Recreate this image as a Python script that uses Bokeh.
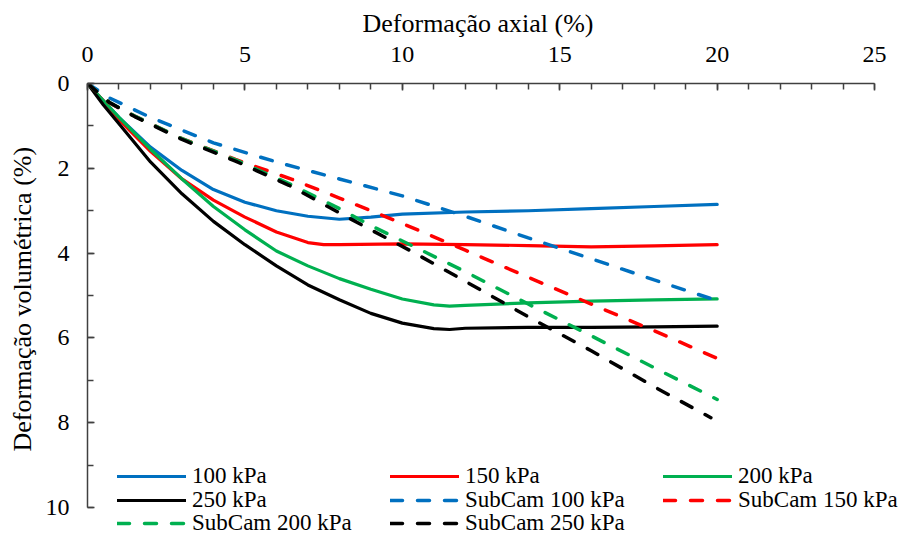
from bokeh.plotting import figure
from bokeh.models import Range1d, SingleIntervalTicker, Legend, LegendItem, Title
from bokeh.embed import file_html
from bokeh.resources import INLINE

# ---- data ----
x_100 = [0, 0.5, 1, 2, 3, 4, 5, 6, 7, 8, 9, 10, 12, 14, 16, 18, 20]
y_100 = [0, 0.4, 0.8, 1.5, 2.05, 2.5, 2.8, 3.0, 3.13, 3.2, 3.15, 3.08, 3.03, 3.0, 2.95, 2.9, 2.85]

x_150 = [0, 0.5, 1, 2, 3, 4, 5, 6, 7, 7.5, 8, 10, 12, 14, 16, 18, 20]
y_150 = [0, 0.4, 0.85, 1.6, 2.25, 2.75, 3.15, 3.5, 3.75, 3.8, 3.8, 3.78, 3.8, 3.82, 3.85, 3.83, 3.8]

x_200 = [0, 0.5, 1, 2, 3, 4, 5, 6, 7, 8, 9, 10, 11, 11.5, 12, 14, 16, 18, 20]
y_200 = [0, 0.4, 0.8, 1.55, 2.25, 2.9, 3.45, 3.95, 4.3, 4.6, 4.85, 5.08, 5.22, 5.25, 5.23, 5.17, 5.13, 5.1, 5.08]

x_250 = [0, 0.5, 1, 2, 3, 4, 5, 6, 7, 8, 9, 10, 11, 11.5, 12, 14, 16, 18, 20]
y_250 = [0, 0.5, 0.95, 1.85, 2.6, 3.25, 3.8, 4.3, 4.75, 5.1, 5.42, 5.65, 5.78, 5.8, 5.77, 5.75, 5.75, 5.74, 5.72]

xs_100 = [0, 0.7, 2, 4, 6, 8, 10, 12, 14, 16, 18, 20]
ys_100 = [0, 0.34, 0.8, 1.4, 1.85, 2.25, 2.65, 3.13, 3.64, 4.13, 4.63, 5.12]

xs_150 = [0, 0.7, 1.5, 3, 4.7, 6.5, 8, 10, 12, 14, 16, 18, 20]
ys_150 = [0, 0.46, 0.77, 1.3, 1.79, 2.26, 2.7, 3.3, 3.93, 4.57, 5.2, 5.83, 6.48]

xs_200 = [0, 0.7, 1.5, 3, 4.7, 6.4, 8, 9, 10.3, 11.9, 14, 16, 18, 20]
ys_200 = [0, 0.45, 0.77, 1.3, 1.8, 2.36, 2.95, 3.35, 3.82, 4.4, 5.2, 5.95, 6.7, 7.45]

xs_250 = [0, 0.7, 1.5, 3, 4.7, 6.4, 8, 9, 10.3, 11.8, 14, 16, 18, 19.8]
ys_250 = [0, 0.45, 0.78, 1.32, 1.83, 2.4, 3.05, 3.45, 3.96, 4.58, 5.5, 6.3, 7.15, 7.88]

labels = ["100 kPa", "150 kPa", "200 kPa", "250 kPa",
          "SubCam 100 kPa", "SubCam 150 kPa", "SubCam 200 kPa", "SubCam 250 kPa"]
colors = ["#0070C0", "#FF0000", "#00B050", "#000000"]
x_title = "Deformação axial (%)"
y_title = "Deformação volumétrica (%)"

FONT = "Liberation Serif"

# frame reaches the right and bottom edges so the legend (which sits partly
# below the y=10 line) is not clipped; axes are bounded to 0-25 and 0-10.
p = figure(width=904, height=536, output_backend="svg", toolbar_location=None,
           title=None,
           x_range=Range1d(0, 25.95), y_range=Range1d(10.68, 0),
           x_axis_location="above",
           min_border_left=87, min_border_right=0, min_border_top=83, min_border_bottom=0)
p.outline_line_color = None
p.grid.visible = False
p.background_fill_color = "white"
p.border_fill_color = "white"

p.xaxis.ticker = SingleIntervalTicker(interval=5, num_minor_ticks=5)
p.yaxis.ticker = SingleIntervalTicker(interval=2, num_minor_ticks=2)
p.xaxis.bounds = (0, 25)
p.yaxis.bounds = (0, 10)
for ax in (p.xaxis[0], p.yaxis[0]):
    ax.axis_line_color = "#404040"
    ax.axis_line_width = 1.5
    ax.major_tick_line_color = "#404040"
    ax.minor_tick_line_color = "#404040"
    ax.major_tick_line_width = 1.5
    ax.minor_tick_line_width = 1.5
    ax.major_tick_in = 7
    ax.major_tick_out = 0
    ax.minor_tick_in = 6
    ax.minor_tick_out = 0
    ax.major_label_text_font = FONT
    ax.major_label_text_font_size = "24px"
    ax.major_label_text_color = "#000000"
p.xaxis.major_label_standoff = 22
p.yaxis.major_label_standoff = 18

# axis titles placed as titles so they centre on the 0-25 / 0-10 axis spans
tx = Title(text=x_title, align="left", offset=275, standoff=11,
           text_font=FONT, text_font_size="26px", text_font_style="normal",
           text_color="#000000")
p.add_layout(tx, "above")
ty = Title(text=y_title, align="left", offset=85, standoff=11,
           text_font=FONT, text_font_size="26px", text_font_style="normal",
           text_color="#000000")
p.add_layout(ty, "left")

solid = [(x_100, y_100), (x_150, y_150), (x_200, y_200), (x_250, y_250)]
dashed = [(xs_100, ys_100), (xs_150, ys_150), (xs_200, ys_200), (xs_250, ys_250)]

renderers = []
for (xx, yy), c in zip(solid, colors):
    r = p.line(xx, yy, line_color=c, line_width=3.2, line_cap="round", line_join="round")
    renderers.append(r)
for (xx, yy), c in zip(dashed, colors):
    r = p.line(xx, yy, line_color=c, line_width=3.5, line_dash="12 15", line_cap="round")
    renderers.append(r)

items = [LegendItem(label=l, renderers=[r]) for l, r in zip(labels, renderers)]

# legend rows, three entries per row (as in the reference)
row_offsets = [47, 23, 0]
for i, vy in enumerate(row_offsets):
    leg = Legend(items=items[3 * i:3 * i + 3], orientation="horizontal",
                 location=(30, vy), padding=0, margin=0, spacing=0,
                 glyph_width=69, glyph_height=20, label_width=198, label_height=20,
                 label_standoff=6, border_line_color=None, background_fill_alpha=0,
                 label_text_font=FONT, label_text_font_size="23px",
                 label_text_color="#000000")
    p.add_layout(leg, "center")

open("out.html", "w").write(file_html(p, INLINE))
